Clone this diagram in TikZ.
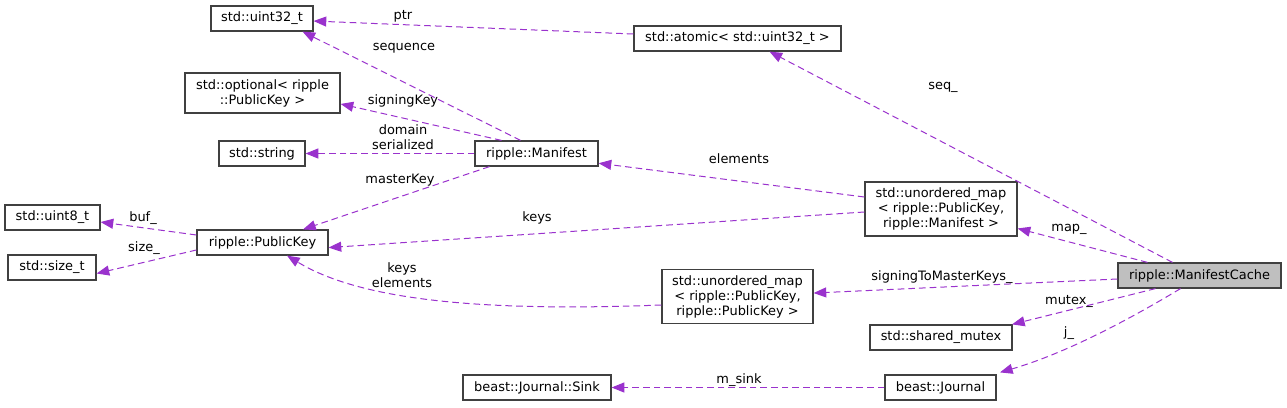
\documentclass[tikz,border=0pt]{standalone}
\usepackage{fontspec}
\setmainfont{DejaVu Sans}
\usetikzlibrary{arrows.meta}
\definecolor{edgecol}{RGB}{154,50,205}
\definecolor{boxline}{RGB}{64,64,64}
\definecolor{boxfill}{RGB}{191,191,191}

\begin{document}
\begin{tikzpicture}[x=0.75pt,y=-0.75pt,
    cls/.style={draw=boxline, line width=0.9pt, align=center, inner xsep=2pt, inner ysep=0pt,
      minimum height=18.75pt, font=\fontsize{9.7}{11.25}\selectfont},
    rel/.style={draw=edgecol, line width=0.75pt, dash pattern=on 5pt off 3pt,
      -{Triangle[length=9.5pt,width=7.5pt,fill=edgecol]}},
    lbl/.style={inner sep=0pt, align=center, font=\fontsize{9.7}{11.25}\selectfont}]
    \useasboundingbox (0,0) rectangle (1287,407);

    \node[cls, minimum width=76.5pt] at (262,18.5) (uint32) {std::uint32\_t};
    \node[cls, minimum width=116.25pt, minimum height=30pt] at (262.5,93) (optional) {std::optional< ripple\\::PublicKey >};
    \node[cls, minimum width=64.5pt] at (262,153.5) (string) {std::string};
    \node[cls, minimum width=71.25pt] at (52.5,217.5) (uint8) {std::uint8\_t};
    \node[cls, minimum width=66pt] at (52,267.5) (sizet) {std::size\_t};
    \node[cls, minimum width=98.25pt] at (262.5,242.5) (pubkey) {ripple::PublicKey};
    \node[cls, minimum width=92.25pt] at (536.5,153.5) (manifest) {ripple::Manifest};
    \node[cls, minimum width=155.25pt] at (737.5,38.5) (atomic) {std::atomic< std::uint32\_t >};
    \node[cls, minimum width=114pt, minimum height=40.5pt] at (941,209) (mapman) {std::unordered\_map\\< ripple::PublicKey,\\ ripple::Manifest >};
    \node[cls, minimum width=113.25pt, minimum height=40.5pt] at (737.5,296.5) (mappk) {std::unordered\_map\\< ripple::PublicKey,\\ ripple::PublicKey >};
    \node[cls, fill=boxfill, minimum width=122.25pt] at (1199.5,275.5) (cache) {ripple::ManifestCache};
    \node[cls, minimum width=106.5pt] at (941,337.5) (mutex) {std::shared\_mutex};
    \node[cls, minimum width=83.25pt] at (940.5,387.5) (journal) {beast::Journal};
    \node[cls, minimum width=111pt] at (537,387.5) (sink) {beast::Journal::Sink};

    \draw[rel] (atomic.west) ++(0,-4.5) -- ([yshift=-1.9pt]uint32.east);
    \draw[rel] (manifest.north) ++(-16,0) -- ([xshift=30.4pt]uint32.south);
    \draw[rel] (manifest.north) ++(-35,0) -- ([yshift=-8.2pt]optional.east);
    \draw[rel] (manifest.west) -- (string.east);
    \draw[rel] (manifest.south) ++(-47,0) -- ([xshift=30.4pt]pubkey.north);
    \draw[rel] (mapman.west) ++(0,3) -- ([yshift=-3.8pt]pubkey.east);
    \draw[rel] (mapman.west) ++(0,-12) -- ([yshift=-7.3pt]manifest.east);
    \draw[rel] (pubkey.west) ++(0,-7.5) -- ([yshift=-3.4pt]uint8.east);
    \draw[rel] (pubkey.west) ++(0,7.5) -- ([yshift=-4.5pt]sizet.east);
    \draw[rel] (mappk.west) ++(0,8.5) .. controls (480,312) and (360,300) .. ([xshift=18.4pt]pubkey.south);
    \draw[rel] (cache.north) ++(-27,0) -- ([xshift=24pt]atomic.south);
    \draw[rel] (cache.north) ++(-52,0) -- ([yshift=-14.6pt]mapman.east);
    \draw[rel] (cache.west) ++(0,3.5) -- ([yshift=2.6pt]mappk.east);
    \draw[rel] (cache.south) ++(-44,0) -- ([xshift=53.25pt]mutex.north);
    \draw[rel] (cache.south) ++(-19,0) .. controls (1120,325) and (1060,355) .. ([xshift=44.6pt,yshift=1.5pt]journal.north);
    \draw[rel] (journal.west) -- (sink.east);

    \node[lbl] at (403,16) (l-ptr) {ptr};
    \node[lbl] at (404,48) (l-seq) {sequence};
    \node[lbl] at (403,101) (l-sign) {signingKey};
    \node[lbl] at (403,137) (l-dom) {domain\\serialized};
    \node[lbl] at (400,180) (l-master) {masterKey};
    \node[lbl] at (537,218) (l-keys) {keys};
    \node[lbl] at (739,159) (l-elem) {elements};
    \node[lbl] at (143,218) (l-buf) {buf\_};
    \node[lbl] at (144,248) (l-size) {size\_};
    \node[lbl] at (402,275) (l-keyel) {keys\\elements};
    \node[lbl] at (943,87) (l-seqq) {seq\_};
    \node[lbl] at (1069,229) (l-map) {map\_};
    \node[lbl] at (942,277) (l-s2m) {signingToMasterKeys\_};
    \node[lbl] at (1069,301) (l-mutex) {mutex\_};
    \node[lbl] at (1069,333) (l-j) {j\_};
    \node[lbl] at (739,380) (l-sink) {m\_sink};
  \end{tikzpicture}
\end{document}
